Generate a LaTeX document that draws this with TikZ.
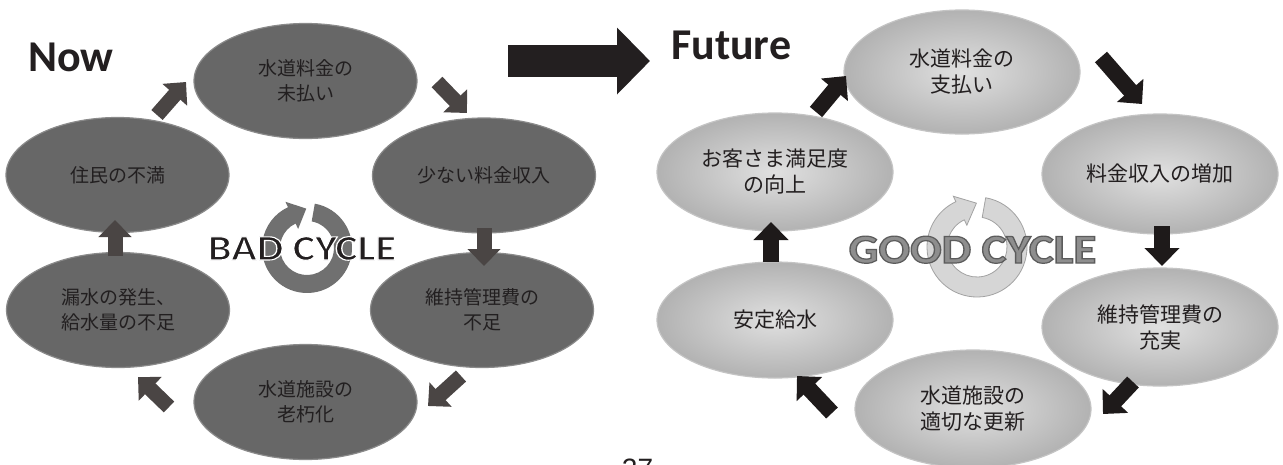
\documentclass[tikz,border=0pt]{standalone}
\usepackage{fontspec}
\setmainfont{Carlito}
\newfontfamily\jpfont{Noto Sans CJK JP}
\newfontfamily\numfont{Liberation Sans}
\usetikzlibrary{shapes.geometric,arrows.meta,calc}
\definecolor{ink}{HTML}{231F20}
\definecolor{badfill}{HTML}{676767}
\definecolor{badrim}{HTML}{8A8A8A}
\definecolor{badtext}{HTML}{221F20}
\definecolor{badarr}{HTML}{4A4544}
\definecolor{badring}{HTML}{707070}
\definecolor{goodin}{HTML}{E0E0E0}
\definecolor{goodout}{HTML}{B2B2B2}
\definecolor{goodrim}{HTML}{C4C4C4}
\definecolor{goodarr}{HTML}{1E1A1A}
\definecolor{goodringfill}{HTML}{D6D6D6}
\definecolor{goodringline}{HTML}{A2A2A2}
\definecolor{goodtxt}{HTML}{8E8E8E}
% text drawn with fill and an outline stroke (#1 = stroke RGB, #2 = stroke width)
\newcommand\outlinedtext[3]{\special{pdf:literal direct 2 Tr #2 w #1 RG}#3\special{pdf:literal direct 0 Tr}}
\begin{document}
\begin{tikzpicture}[x=1pt,y=-1pt,
  badell/.style={ellipse, minimum width=223pt, minimum height=115pt, inner sep=0pt,
    fill=badfill, draw=badrim, line width=1.2pt, text=badtext, align=center,
    font=\jpfont\fontsize{19}{25}\selectfont},
  goodell/.style={ellipse, minimum width=236pt, minimum height=118pt, inner sep=0pt,
    inner color=goodin, outer color=goodout, draw=goodrim, line width=1.2pt, text=ink, align=center,
    font=\jpfont\fontsize{21}{26}\selectfont},
  badarrow/.style={draw=badarr, line width=15pt, -{Triangle[width=32pt,length=17pt]}},
  goodarrow/.style={draw=goodarr, line width=16pt, -{Triangle[width=34pt,length=18pt]}},
  bigarrow/.style={draw=ink, line width=32pt, -{Triangle[width=65pt,length=33pt]}},
  heading/.style={font=\bfseries\fontsize{44}{50}\selectfont, text=ink, inner sep=0pt, anchor=base west}
]
\useasboundingbox (0,0) rectangle (1283,464);
\fill[white] (0,0) rectangle (1283,464);

% ---------- headings ----------
\node[heading] (now) at (28,71) {Now};
\node[heading] (future) at (671,59) {Future};

% ---------- big arrow ----------
\coordinate (bigS) at (508,61);
\coordinate (bigE) at (650,61);
\draw[bigarrow] (bigS) -- (bigE);

% ---------- BAD cycle ellipses ----------
\node[badell] (bTop) at (305.5,81) {水道料金の\\未払い};
\node[badell] (bRight) at (484,175.5) {少ない料金収入};
\node[badell] (bBR) at (482,310) {維持管理費の\\不足};
\node[badell] (bBot) at (305.5,402) {水道施設の\\老朽化};
\node[badell, align=left] (bBL) at (118,310) {漏水の発生、\\給水量の不足};
\node[badell] (bLeft) at (117.5,175) {住民の不満};

% ---------- BAD arrows ----------
\coordinate (a1s) at (157,115); \coordinate (a1e) at (186,82);
\coordinate (a2s) at (437,82);  \coordinate (a2e) at (467,113);
\coordinate (a3s) at (484,228); \coordinate (a3e) at (484,266);
\coordinate (a4s) at (461,376); \coordinate (a4e) at (428,406);
\coordinate (a5s) at (169,407); \coordinate (a5e) at (138,377);
\coordinate (a6s) at (115,256); \coordinate (a6e) at (115,220);
\draw[badarrow] (a1s) -- (a1e);
\draw[badarrow] (a2s) -- (a2e);
\draw[badarrow] (a3s) -- (a3e);
\draw[badarrow] (a4s) -- (a4e);
\draw[badarrow] (a5s) -- (a5e);
\draw[badarrow] (a6s) -- (a6e);

% ---------- BAD ring ----------
\coordinate (bc) at (307,248);
\fill[badring] ($(bc)+(-80:45)$) arc[start angle=-80, end angle=245, radius=45]
  -- ($(bc)+(245:51)$) -- ($(bc)+(245:36)+(335:16)$) -- ($(bc)+(245:21)$)
  -- ($(bc)+(245:27)$) arc[start angle=245, end angle=-80, radius=27] -- cycle;
\node[font=\bfseries\fontsize{35.7}{40}\selectfont, text=ink, inner sep=0pt, anchor=base] (badlabel) at (302,260)
  {\scalebox{1.18}[1]{\outlinedtext{1 1 1}{1.1}{BAD CYCLE}}};

% ---------- GOOD cycle ellipses ----------
\node[goodell, minimum height=124pt] (gTop) at (962,72) {水道料金の\\支払い};
\node[goodell, minimum height=120pt] (gRight) at (1160,174) {料金収入の増加};
\node[goodell, minimum height=118pt] (gBR) at (1160,327) {維持管理費の\\充実};
\node[goodell] (gBot) at (973,409) {水道施設の\\適切な更新};
\node[goodell, minimum height=116pt] (gBL) at (775,320) {安定給水};
\node[goodell] (gLeft) at (775,172) {お客さま満足度\\の向上};

% ---------- GOOD arrows ----------
\coordinate (b1s) at (816,112);  \coordinate (b1e) at (846,76);
\coordinate (b2s) at (1101,57);  \coordinate (b2e) at (1142,104);
\coordinate (b3s) at (1162,226); \coordinate (b3e) at (1162,266);
\coordinate (b4s) at (1133,382); \coordinate (b4e) at (1103,414);
\coordinate (b5s) at (832,413);  \coordinate (b5e) at (797,376);
\coordinate (b6s) at (771,262);  \coordinate (b6e) at (771,222);
\draw[goodarrow] (b1s) -- (b1e);
\draw[goodarrow] (b2s) -- (b2e);
\draw[goodarrow] (b3s) -- (b3e);
\draw[goodarrow] (b4s) -- (b4e);
\draw[goodarrow] (b5s) -- (b5e);
\draw[goodarrow] (b6s) -- (b6e);

% ---------- GOOD ring ----------
\coordinate (gc) at (977,247);
\filldraw[fill=goodringfill, draw=goodringline, line width=0.8pt]
  ($(gc)+(-80:50)$) arc[start angle=-80, end angle=245, radius=50]
  -- ($(gc)+(245:56)$) -- ($(gc)+(245:40)+(335:18)$) -- ($(gc)+(245:24)$)
  -- ($(gc)+(245:30)$) arc[start angle=245, end angle=-80, radius=30] -- cycle;
\node[font=\bfseries\fontsize{41}{46}\selectfont, text=goodtxt, inner sep=0pt, anchor=base] (goodlabel) at (972.5,263)
  {\scalebox{1.14}[1]{\outlinedtext{0.36 0.36 0.36}{1.2}{GOOD CYCLE}}};

% ---------- page number (cut off) ----------
\node[font=\numfont\fontsize{28}{30}\selectfont, text=ink, inner sep=0pt, anchor=base] (pageno) at (637.5,478) {27};
\end{tikzpicture}
\end{document}
